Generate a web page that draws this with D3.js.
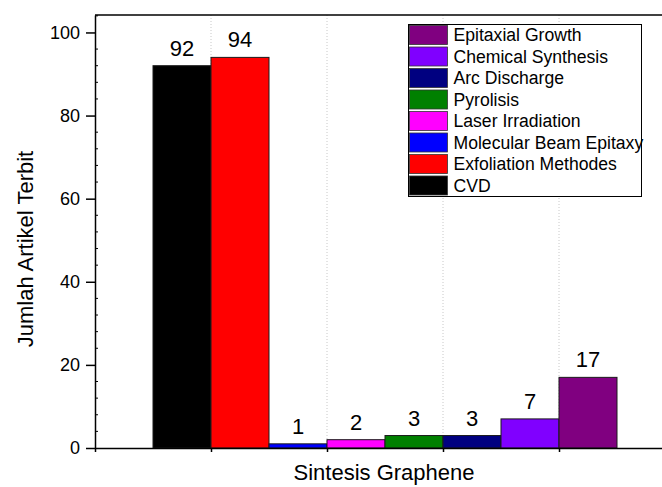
<!DOCTYPE html>
<html>
<head>
<meta charset="utf-8">
<script src="https://cdn.jsdelivr.net/npm/d3@7"></script>
<style>
  html, body { margin: 0; padding: 0; background: #fff; }
  svg { display: block; font-family: "Liberation Sans", Arial, sans-serif; }
</style>
</head>
<body>
<svg id="chart" width="662" height="487"></svg>
<script>
// ---- data ----
const categories = ["CVD", "Exfoliation Methodes", "Molecular Beam Epitaxy", "Laser Irradiation",
                    "Pyrolisis", "Arc Discharge", "Chemical Synthesis", "Epitaxial Growth"];
const values = [92, 94, 1, 2, 3, 3, 7, 17];
const colors = ["#000000", "#ff0000", "#0000ff", "#ff00ff", "#008000", "#000080", "#8000ff", "#800080"];
const yTicks = [0, 20, 40, 60, 80, 100];
const xTitle = "Sintesis Graphene";
const yTitle = "Jumlah Artikel Terbit";

// ---- layout ----
const svg = d3.select("#chart");
const pL = 95, pR = 675, pT = 15, pB = 448;

const xLin = d3.scaleLinear().domain([0, 5]).range([pL, pR]);
const x = d3.scaleBand().domain(categories).range([xLin(0.5), xLin(4.5)]).padding(0);
const y = d3.scaleLinear().domain([0, 104.2]).range([pB, pT]);

// vertical dotted grid
svg.append("g").selectAll("line").data([1, 2, 3, 4]).join("line")
  .attr("x1", d => xLin(d)).attr("x2", d => xLin(d))
  .attr("y1", pT).attr("y2", pB)
  .attr("stroke", "#c8c8c8").attr("stroke-width", 1).attr("stroke-dasharray", "1,2");

// bars
svg.append("g").selectAll("rect").data(values).join("rect")
  .attr("x", (d, i) => x(categories[i]))
  .attr("y", d => y(d))
  .attr("width", x.bandwidth())
  .attr("height", d => y(0) - y(d))
  .attr("fill", (d, i) => colors[i])
  .attr("stroke", "#1a1a1a").attr("stroke-width", 1);

// value labels
svg.append("g").selectAll("text").data(values).join("text")
  .attr("x", (d, i) => x(categories[i]) + x.bandwidth() / 2)
  .attr("y", d => y(d) - 10)
  .attr("text-anchor", "middle")
  .attr("font-size", 22)
  .attr("fill", "#000")
  .text(d => d);

// top border
svg.append("line").attr("x1", pL).attr("x2", 662).attr("y1", pT).attr("y2", pT)
  .attr("stroke", "#000").attr("stroke-width", 1.5);

// y axis minor ticks (inside)
const yMinor = d3.range(0, 104.1, 4).filter(v => v % 20 !== 0);
svg.append("g").selectAll("line").data(yMinor).join("line")
  .attr("x1", pL).attr("x2", pL + 3)
  .attr("y1", d => y(d)).attr("y2", d => y(d))
  .attr("stroke", "#000").attr("stroke-width", 1);

// y axis
const yAxis = svg.append("g").attr("transform", `translate(${pL},0)`)
  .call(d3.axisLeft(y).tickValues(yTicks).tickSize(9).tickPadding(6).tickSizeOuter(0));
yAxis.select(".domain").attr("stroke-width", 1.5);
yAxis.selectAll(".tick line").attr("stroke-width", 1.5);
yAxis.selectAll("text").attr("font-size", 18).attr("font-family", "Liberation Sans, Arial, sans-serif").attr("fill", "#000");

// x axis
const xAxis = svg.append("g").attr("transform", `translate(0,${pB})`)
  .call(d3.axisBottom(xLin).tickValues([0, 1, 2, 3, 4, 5]).tickFormat("").tickSize(4).tickSizeOuter(0));
xAxis.select(".domain").attr("stroke-width", 1.5);
xAxis.selectAll(".tick line").attr("stroke-width", 1.5);

// axis titles
svg.append("text").attr("x", 384).attr("y", 480)
  .attr("text-anchor", "middle").attr("font-size", 22).attr("fill", "#000")
  .text(xTitle);
svg.append("text").attr("transform", "translate(33,249) rotate(-90)")
  .attr("text-anchor", "middle").attr("font-size", 22).attr("fill", "#000")
  .text(yTitle);

// legend
const legendOrder = d3.range(categories.length).reverse();
const lg = svg.append("g");
lg.append("rect").attr("x", 408.5).attr("y", 24.5).attr("width", 233).attr("height", 172)
  .attr("fill", "#fff").attr("stroke", "#000").attr("stroke-width", 1);
const rowH = 21.5;
const items = lg.selectAll("g.item").data(legendOrder).join("g").attr("class", "item")
  .attr("transform", (d, k) => `translate(409.5,${25.5 + k * rowH})`);
items.append("rect").attr("x", 0).attr("y", 0).attr("width", 38).attr("height", rowH - 2.5)
  .attr("fill", i => colors[i]).attr("stroke", "#333").attr("stroke-width", 0.8);
items.append("text").attr("x", 44).attr("y", rowH / 2 + 5)
  .attr("font-size", 17.6).attr("fill", "#000")
  .text(i => categories[i]);
</script>
</body>
</html>
